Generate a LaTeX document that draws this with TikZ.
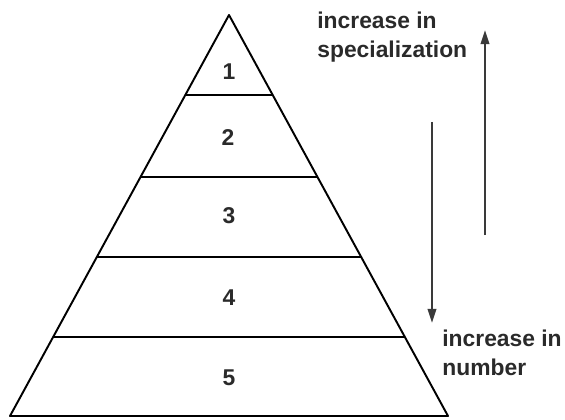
\documentclass[tikz,border=0pt]{standalone}
\usepackage{fontspec}
\setmainfont{Liberation Sans}
\usepackage{xcolor}
\usepackage{tikz}
\usetikzlibrary{arrows.meta}

\definecolor{arrowgray}{HTML}{3A3A3A}
\definecolor{textgray}{HTML}{2A2A2A}

\begin{document}
\begin{tikzpicture}[>={Triangle[length=8pt,width=4.8pt]},line join=round,
  tier/.style={line width=1.1pt,black},
  rank/.style={font=\fontsize{13}{16}\selectfont\bfseries,text=textgray,inner sep=0pt},
  note/.style={font=\fontsize{13}{16.5}\selectfont\bfseries,text=textgray,inner sep=0pt,align=left,anchor=north west},
  trend/.style={->,line width=1.3pt,arrowgray}]
  \useasboundingbox (0,0) rectangle (11.300,-8.380);
  \coordinate (A) at (4.580,-0.300);
  \coordinate (BL) at (0.200,-8.320);
  \coordinate (BR) at (8.960,-8.320);
  \coordinate (L1) at (3.706,-1.900);
  \coordinate (R1) at (5.454,-1.900);
  \coordinate (L2) at (2.810,-3.540);
  \coordinate (R2) at (6.350,-3.540);
  \coordinate (L3) at (1.936,-5.140);
  \coordinate (R3) at (7.224,-5.140);
  \coordinate (L4) at (1.062,-6.740);
  \coordinate (R4) at (8.098,-6.740);
  \coordinate (UP0) at (9.700,-4.700);
  \coordinate (UP1) at (9.700,-0.600);
  \coordinate (DN0) at (8.640,-2.440);
  \coordinate (DN1) at (8.640,-6.460);
  \draw[tier] (A) -- (BL) -- (BR) -- cycle;
  \draw[tier] (L1) -- (R1);
  \draw[tier] (L2) -- (R2);
  \draw[tier] (L3) -- (R3);
  \draw[tier] (L4) -- (R4);
  \draw[trend] (UP0) -- (UP1);
  \draw[trend] (DN0) -- (DN1);
  \node[rank] (n1) at (4.580,-1.440) {1};
  \node[rank] (n2) at (4.560,-2.760) {2};
  \node[rank] (n3) at (4.580,-4.320) {3};
  \node[rank] (n4) at (4.580,-5.960) {4};
  \node[rank] (n5) at (4.580,-7.560) {5};
  \node[note] (spec) at (6.340,-0.240) {increase in\\specialization};
  \node[note] (numb) at (8.840,-6.600) {increase in\\number};
\end{tikzpicture}
\end{document}
